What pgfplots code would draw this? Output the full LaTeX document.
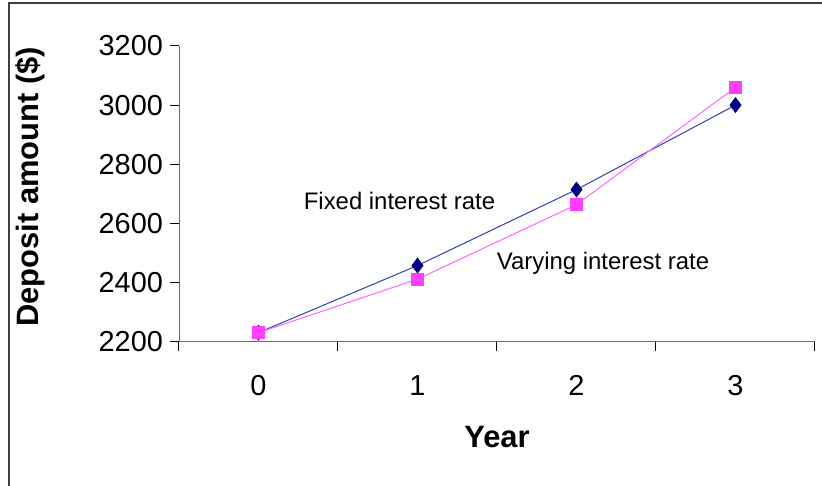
\documentclass[border=0pt]{standalone}
\usepackage{fontspec}
\setmainfont{Liberation Sans}
\usepackage{pgfplots}
\pgfplotsset{compat=1.18}

\definecolor{fixedmark}{HTML}{000080}
\definecolor{fixedline}{HTML}{3040A8}
\definecolor{varmark}{HTML}{FF3FFF}
\definecolor{varline}{HTML}{FF66FF}

\begin{document}
\begin{tikzpicture}
% page = 822x486 px at 2 px per bp; origin = lower left corner of the axis box
\path[use as bounding box] (-89.5bp,-72.25bp) rectangle (321.5bp,170.75bp);
\clip (-89.5bp,-72.25bp) rectangle (321.5bp,170.75bp);
\draw[line width=1bp, draw=black!75] (-84.75bp,-100bp) rectangle (340bp,169.25bp);
\begin{axis}[
    scale only axis,
    width=318bp, height=147.75bp,
    xmin=-0.5, xmax=3.5,
    ymin=2200, ymax=3200,
    axis lines=left,
    axis line style={-, draw=gray!85!black},
    tick align=outside,
    xtick={0,1,2,3},
    major x tick style={draw=none},
    minor xtick={-0.5,0.5,1.5,2.5,3.5},
    minor tick length=4.5bp,
    ytick={2200,2400,...,3200},
    major tick length=4.5bp,
    tick style={black, line width=0.5bp},
    tick label style={font=\fontsize{14.5}{16}\selectfont},
    xticklabel style={yshift=-9bp},
    /pgf/number format/assume math mode=true,
    /pgf/number format/1000 sep={},
    xlabel={Year},
    ylabel={Deposit amount (\$)},
    label style={font=\fontsize{15.5}{18}\selectfont\bfseries},
    xlabel style={at={(axis description cs:0.5,-0.323)}, anchor=center},
    ylabel style={at={(axis description cs:-0.234,0.523)}, anchor=center},
    clip=false,
]
\addplot[color=fixedline, line width=0.5bp,
    mark=diamond*, mark size=3.6bp,
    mark options={fill=fixedmark, draw=fixedmark}] coordinates {
    (0,2230) (1,2457) (2,2714) (3,3000)
};
\addplot[color=varline, line width=0.5bp,
    mark=square*, mark size=3bp,
    mark options={fill=varmark, draw=varmark}] coordinates {
    (0,2230) (1,2411) (2,2663) (3,3060)
};
\node[font=\fontsize{12}{14}\selectfont] at (axis cs:0.887,2675) {Fixed interest rate};
\node[font=\fontsize{12}{14}\selectfont] at (axis cs:2.167,2464) {Varying interest rate};
\end{axis}
\end{tikzpicture}
\end{document}
